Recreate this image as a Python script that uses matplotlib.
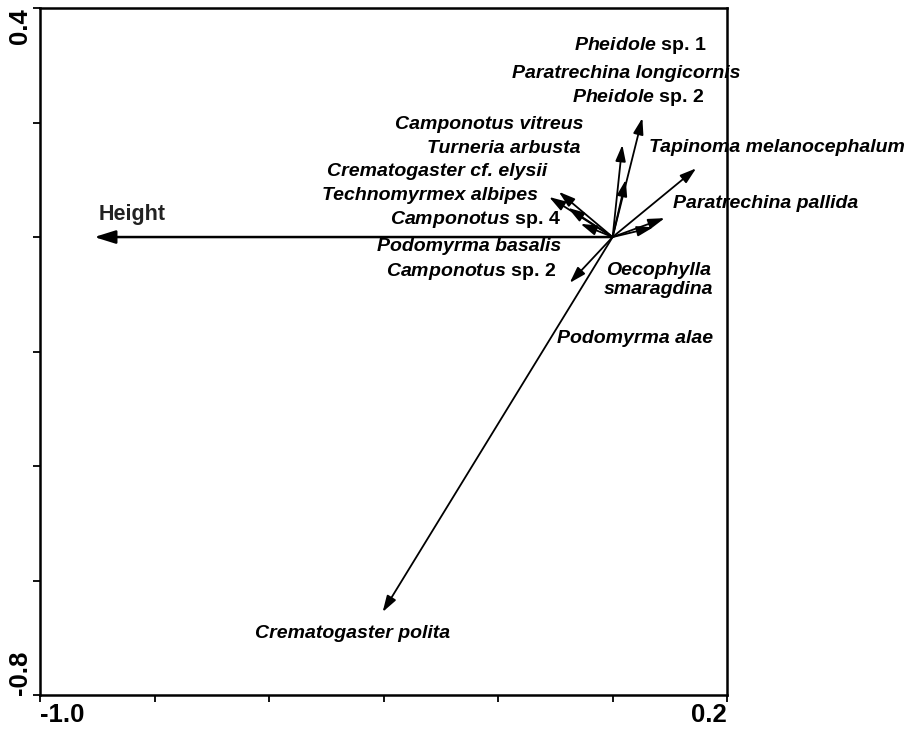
import matplotlib
matplotlib.use("Agg")
import matplotlib.pyplot as plt

plt.rcParams["font.family"] = ["Liberation Sans", "DejaVu Sans"]
plt.rcParams["mathtext.fontset"] = "custom"
plt.rcParams["mathtext.it"] = "Liberation Sans:italic:bold"
plt.rcParams["mathtext.rm"] = "Liberation Sans:bold"

# arrow tips (species vectors)
arrow_names = ["Pheidole sp. 2", "Pheidole sp. 1", "Paratrechina longicornis",
               "Tapinoma melanocephalum", "Paratrechina pallida",
               "Oecophylla smaragdina", "Camponotus vitreus", "Crematogaster cf. elysii",
               "Technomyrmex albipes", "Camponotus sp. 4", "Camponotus sp. 2",
               "Crematogaster polita"]
arrow_x = [0.052, 0.017, 0.023, 0.146, 0.091, 0.071, -0.094, -0.111, -0.078, -0.056, -0.075, -0.402]
arrow_y = [0.208, 0.161, 0.100, 0.120, 0.033, 0.017, 0.079, 0.070, 0.051, 0.023, -0.080, -0.655]

# environmental variable
env_name = "Height"
env_x = -0.906
env_y = 0.0

# species labels
label_text = [r"$\mathit{Pheidole}$ sp. 1", "Paratrechina longicornis", r"$\mathit{Pheidole}$ sp. 2",
              "Tapinoma melanocephalum", "Paratrechina pallida", "Oecophylla\nsmaragdina",
              "Podomyrma alae", "Crematogaster polita",
              "Camponotus vitreus", "Turneria arbusta", "Crematogaster cf. elysii",
              "Technomyrmex albipes", r"$\mathit{Camponotus}$ sp. 4", "Podomyrma basalis",
              r"$\mathit{Camponotus}$ sp. 2"]
label_x = [-0.068, -0.176, -0.071, 0.063, 0.106, 0.080, -0.098, -0.625,
           -0.051, -0.057, -0.115, -0.131, -0.091, -0.089, -0.098]
label_y = [0.334, 0.285, 0.243, 0.157, 0.058, -0.075, -0.178, -0.693,
           0.196, 0.155, 0.114, 0.072, 0.030, -0.017, -0.061]
label_ha = ["left"] * 5 + ["center"] + ["left"] * 2 + ["right"] * 7

fig = plt.figure(figsize=(9.12, 7.32), dpi=100)
ax = fig.add_axes([0.0444, 0.0505, 0.7528, 0.9385])
ax.set_xlim(-1.0, 0.2)
ax.set_ylim(-0.8, 0.4)

for x, y in zip(arrow_x, arrow_y):
    ax.annotate("", xy=(x, y), xytext=(0, 0),
                arrowprops=dict(arrowstyle="-|>,head_length=0.7,head_width=0.22",
                                color="black", lw=1.3, shrinkA=0, shrinkB=0,
                                mutation_scale=14))

ax.annotate("", xy=(env_x, env_y), xytext=(0, 0),
            arrowprops=dict(arrowstyle="-|>,head_length=0.8,head_width=0.25",
                            color="black", lw=1.8, shrinkA=0, shrinkB=0,
                            mutation_scale=16))
ax.text(-0.899, 0.040, env_name, fontsize=15.5, fontweight="bold", color="#222222",
        ha="left", va="center")

for t, x, y, ha in zip(label_text, label_x, label_y, label_ha):
    style = "normal" if "$" in t else "italic"
    ax.text(x, y, t, fontsize=14, fontweight="bold", fontstyle=style,
            ha=ha, va="center", multialignment="center", linespacing=1.2)

ticks_x = [-1.0, -0.8, -0.6, -0.4, -0.2, 0.0, 0.2]
ticks_y = [-0.8, -0.6, -0.4, -0.2, 0.0, 0.2, 0.4]
ax.set_xticks(ticks_x)
ax.set_xticklabels(["-1.0", "", "", "", "", "", "0.2"], fontsize=18.5, fontweight="bold")
ax.set_yticks(ticks_y)
ax.set_yticklabels(["-0.8", "", "", "", "", "", "0.4"], fontsize=18.5, fontweight="bold",
                   rotation=90)
xl = ax.get_xticklabels()
xl[0].set_ha("left")
xl[-1].set_ha("right")
yl = ax.get_yticklabels()
yl[0].set_va("bottom")
yl[-1].set_va("top")
ax.tick_params(direction="out", length=5, width=1.3, pad=1)

for s in ax.spines.values():
    s.set_linewidth(1.8)

fig.savefig("out.png", dpi=100)
